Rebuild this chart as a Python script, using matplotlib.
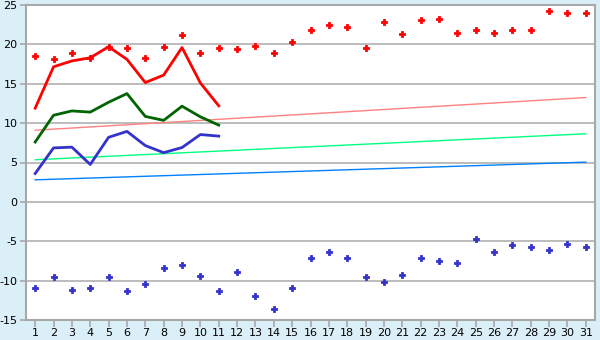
import matplotlib
matplotlib.use('Agg')
import matplotlib.pyplot as plt
import numpy as np

plt.rcParams['axes.unicode_minus'] = False

days = np.arange(1, 32)

# upper scatter (red) and lower scatter (blue), all 31 days
red_pts = [18.5, 18.2, 18.85, 18.3, 19.7, 19.5, 18.3, 19.7, 21.2, 18.85,
           19.5, 19.35, 19.85, 18.85, 20.25, 21.8, 22.5, 22.2, 19.6, 22.9,
           21.3, 23.05, 23.2, 21.5, 21.8, 21.5, 21.8, 21.8, 24.2, 23.95, 23.95]
blue_pts = [-10.95, -9.6, -11.2, -10.95, -9.6, -11.35, -10.45, -8.4, -8.0, -9.4,
            -11.35, -8.9, -12.0, -13.6, -10.95, -7.15, -6.4, -7.15, -9.55, -10.2,
            -9.3, -7.15, -7.5, -7.8, -4.7, -6.4, -5.5, -5.75, -6.1, -5.35, -5.75]

# lines for first 11 days
red_line = [11.9, 17.15, 17.9, 18.3, 19.7, 18.1, 15.15, 16.1, 19.6, 15.1, 12.2]
green_line = [7.6, 11.0, 11.55, 11.4, 12.65, 13.75, 10.85, 10.35, 12.15, 10.8, 9.75]
blue_line = [3.6, 6.85, 6.95, 4.75, 8.2, 8.95, 7.15, 6.25, 6.9, 8.55, 8.35]

# trend lines: value at day 1 and day 31
pink_trend = [9.1, 13.25]
lgreen_trend = [5.35, 8.65]
lblue_trend = [2.8, 5.05]

fig = plt.figure(figsize=(6, 3.4), dpi=100)
fig.patch.set_facecolor('#DAEFF7')
ax = fig.add_axes([26/600, 1-320/340, 569/600, 315/340])
ax.set_facecolor('white')

ax.set_ylim(-15, 25)
ax.set_xlim(0.5, 31.5)
ax.set_yticks(np.arange(-15, 26, 5))
ax.set_xticks(days)
ax.yaxis.grid(True, color='#B0B0B0', lw=1.2)
ax.set_axisbelow(True)
for s in ax.spines.values():
    s.set_color('#A8A8A8')
    s.set_linewidth(1.5)
ax.tick_params(axis='both', colors='#A8A8A8', labelcolor='black', labelsize=8, width=1.2)
ax.tick_params(axis='x', length=5, pad=1)
ax.tick_params(axis='y', length=4, pad=2)

tx = [days[0], days[-1]]
ax.plot(tx, pink_trend, color='#FF8080', lw=1)
ax.plot(tx, lgreen_trend, color='#00FF80', lw=1)
ax.plot(tx, lblue_trend, color='#0080FF', lw=1)

ax.plot(days[:11], red_line, color='#FF0000', lw=2)
ax.plot(days[:11], green_line, color='#006400', lw=2)
ax.plot(days[:11], blue_line, color='#3333CC', lw=2)

ax.plot(days, red_pts, 'P', color='#FF0000', ms=5, mew=0.6, lw=0)
ax.plot(days, blue_pts, 'P', color='#3333CC', ms=5, mew=0.6, lw=0)

fig.savefig('out.png', dpi=100, facecolor=fig.get_facecolor())
